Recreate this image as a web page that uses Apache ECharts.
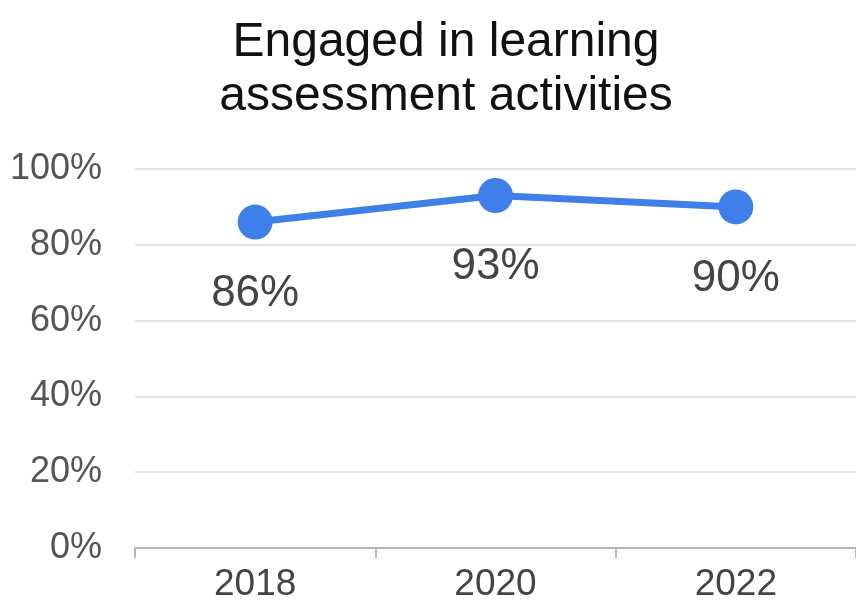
<!DOCTYPE html>
<html>
<head>
<meta charset="utf-8">
<script src="https://cdn.jsdelivr.net/npm/echarts@6/dist/echarts.min.js"></script>
<style>
html,body{margin:0;padding:0;background:#fff;}
#chart{width:856px;height:605px;}
</style>
</head>
<body>
<div id="chart"></div>
<script>
const titleText = "Engaged in learning\nassessment activities";
const categories = ["2018", "2020", "2022"];
const values = [86, 93, 90];
const yTicks = [0, 20, 40, 60, 80, 100];

const chart = echarts.init(document.getElementById('chart'), null, {renderer: 'canvas'});
chart.setOption({
  backgroundColor: '#ffffff',
  animation: false,
  title: {
    text: titleText,
    left: 441,
    textAlign: 'center',
    top: 11,
    textStyle: {
      fontFamily: 'Liberation Sans, Arial, sans-serif',
      fontSize: 48,
      fontWeight: 'normal',
      color: '#111111',
      lineHeight: 54
    }
  },
  grid: {left: 135, right: 0, top: 169, bottom: 57},
  xAxis: {
    type: 'category',
    data: categories,
    boundaryGap: true,
    axisLine: {show: true, lineStyle: {color: '#b7b7b7', width: 2}},
    axisTick: {show: true, length: 10, lineStyle: {color: '#b7b7b7', width: 2}},
    axisLabel: {
      fontFamily: 'Liberation Sans, Arial, sans-serif',
      fontSize: 37,
      color: '#444444',
      margin: 18
    },
    splitLine: {show: false}
  },
  yAxis: {
    type: 'value',
    min: yTicks[0],
    max: yTicks[yTicks.length - 1],
    interval: 20,
    axisLine: {show: false},
    axisTick: {show: false},
    axisLabel: {
      formatter: v => v + '%',
      fontFamily: 'Liberation Sans, Arial, sans-serif',
      fontSize: 36,
      color: '#555555',
      margin: 33,
      padding: [4, 0, 0, 0]
    },
    splitLine: {show: true, lineStyle: {color: '#d9d9d9', width: 1.5}}
  },
  series: [{
    type: 'line',
    data: values,
    symbol: 'circle',
    symbolSize: 35,
    lineStyle: {color: '#3f7fe9', width: 7},
    itemStyle: {color: '#3f7fe9'},
    label: {
      show: true,
      position: 'bottom',
      distance: 32,
      formatter: p => p.value + '%',
      fontFamily: 'Liberation Sans, Arial, sans-serif',
      fontSize: 44,
      color: '#444444'
    }
  }]
});
</script>
</body>
</html>
